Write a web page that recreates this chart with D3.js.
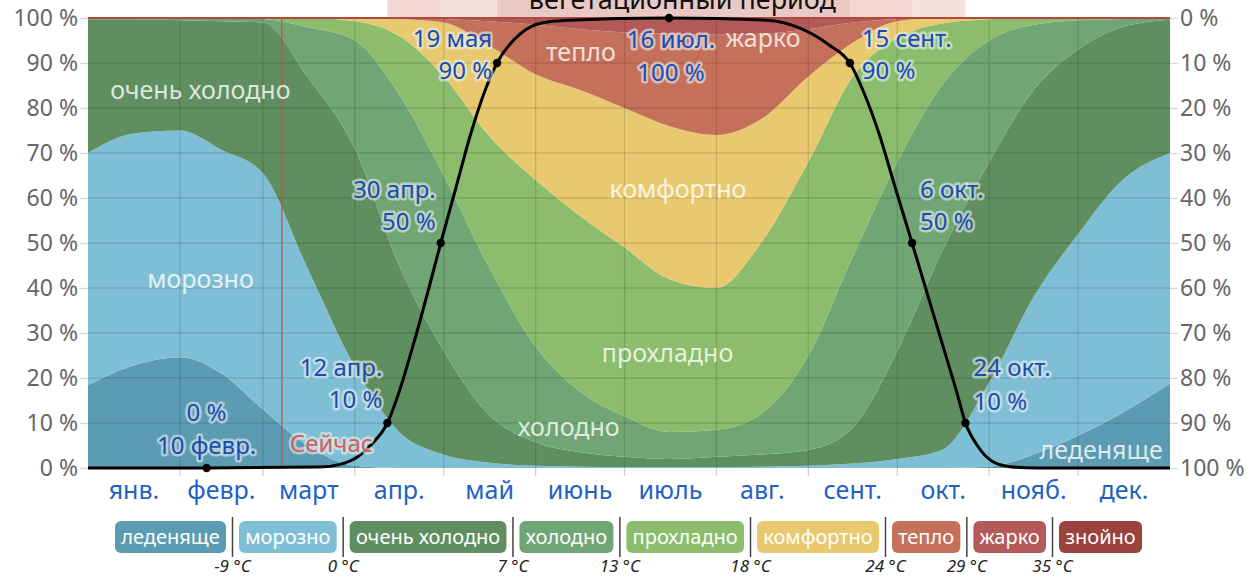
<!DOCTYPE html>
<html><head><meta charset="utf-8">
<script src="https://cdn.jsdelivr.net/npm/d3@7"></script>
<style>
body{margin:0;background:#fff;}
svg{display:block;font-family:"Noto Sans","Open Sans",sans-serif;}
</style>
</head><body>
<svg id="c" width="1255" height="577"></svg>
<script>
// ---------- DATA ----------
const categories = ["леденяще","морозно","очень холодно","холодно","прохладно","комфортно","тепло","жарко","знойно"];
const catColors  = ["#5b9cb2","#7fbfd5","#5f8f61","#6fa673","#8bbd6c","#e8c96f","#c5705a","#b35a59","#9b423c"];
const thresholds = ["-9 °C","0 °C","7 °C","13 °C","18 °C","24 °C","29 °C","35 °C"];
const months = ["янв.","февр.","март","апр.","май","июнь","июль","авг.","сент.","окт.","нояб.","дек."];
const monthStarts = [0,31,59,90,120,151,181,212,243,273,304,334,365];
const pctTicks = [0,10,20,30,40,50,60,70,80,90,100];

// sample days (day of year)
const days = [0,15,31,45,59,74,90,105,120,135,151,166,181,196,212,227,243,258,273,288,304,319,334,349,365];
// share of hours (%) in each band
const ledenyashche = [18.4,22.7,24.6,21,13,5,0.5,0,0,0,0,0,0,0,0,0,0,0,0,0,0.3,3,7.2,12.3,18.8];
const moroszno     = [51.6,51.6,50.4,49.7,52.5,39.5,22,8,3,1.2,0.5,0.3,0.2,0.2,0.2,0.3,0.5,1,2,4,18.7,35,44.8,51.7,51.2];
const ochenHolodno = [29.7,25.4,24.5,28.6,33.5,42.5,48.5,37,23,10.8,5.2,3.2,2.3,1.8,2.3,2.7,3.5,8,24,44,49,46,41,34,29.6];
const holodno      = [0.3,0.3,0.5,0.7,0.8,11,24,38,39,33,21.3,13.5,9,6,6,9,21,38,42,37,27,14.5,6.5,1.8,0.3];
const prohladno    = [0,0,0,0,0.2,2,4.3,13,22,29,37,39,37.5,34,31.5,38,43,40,27.5,13.8,4.7,1.5,0.5,0.2,0.1];
const komfortno    = [0,0,0,0,0,0,0.7,3.8,12,20,23.5,28,31,34,34,27.5,19,7.5,3.8,1.2,0.3,0,0,0,0];
const teplo        = [0,0,0,0,0,0,0,0.2,0.8,5.3,11,13.5,16.8,20.5,22.3,19,10.5,4.5,0.5,0,0,0,0,0,0];
const zharko       = [0,0,0,0,0,0,0,0,0.2,0.65,1.4,2.3,2.9,3.1,3.3,3.2,2.35,0.95,0.2,0,0,0,0,0,0];
const znoyno       = [0,0,0,0,0,0,0,0,0,0.05,0.1,0.2,0.3,0.4,0.4,0.3,0.15,0.05,0,0,0,0,0,0,0];
const bandSeries = [ledenyashche,moroszno,ochenHolodno,holodno,prohladno,komfortno,teplo,zharko,znoyno];

// growing season probability (%)
const growDays = [0,40,78,85,91,96,101,105,110,115,119,124,129,134,138,146,153,162,196,229,240,250,257,262,267,272,278,283,288,293,296,300,305,311,320,365];
const growPct  = [0,0,0.2,0.8,2.5,5.5,10,17,28,40,50,62,74,84,90,96.6,98.9,99.5,100,99.5,97.8,94,90,83,74,63,50,39,28,17,10,5,1.5,0.3,0,0];

// annotated points
const markDays   = [40,101,119,138,196,257,278,296];
const markPct    = [0,10,50,90,100,90,50,10];
const markDates  = ["10 февр.","12 апр.","30 апр.","19 мая","16 июл.","15 сент.","6 окт.","24 окт."];
const markValues = ["0 %","10 %","50 %","90 %","100 %","90 %","50 %","10 %"];

// season bar shading segments (day ranges)
const seasonFrom = [101,119,138,257,278];
const seasonTo   = [119,138,257,278,296];
const seasonShade= ["#f1d6d2","#f5e1de","#eac9c4","#f1d6d2","#f5e1de"];

const nowDay = 65.4;

// ---------- DRAW ----------
const svg = d3.select("#c");
const L=88, R=1170, T=18, B=468;
const x = d3.scaleLinear().domain([0,365]).range([L,R]);
const y = d3.scaleLinear().domain([0,100]).range([B,T]);
const yR = d3.scaleLinear().domain([100,0]).range([B,T]);

// top season bar
svg.append("g").selectAll("rect").data(seasonFrom).join("rect")
  .attr("x",(d,i)=>x(d)).attr("y",0).attr("width",(d,i)=>x(seasonTo[i])-x(d)).attr("height",T-1)
  .attr("fill",(d,i)=>seasonShade[i]);
svg.append("text").attr("x",(x(119)+x(278))/2+6).attr("y",9).attr("text-anchor","middle")
  .attr("font-size",27).attr("fill","#111").text("вегетационный период");

// stacked bands
const rows = days.map((d,i)=>{const r={day:d}; categories.forEach((c,k)=>r[c]=bandSeries[k][i]); return r;});
const stacked = d3.stack().keys(categories)(rows);
const area = d3.area().x(d=>x(d.data.day)).y0(d=>y(d[0])).y1(d=>y(d[1])).curve(d3.curveMonotoneX);
svg.append("g").selectAll("path").data(stacked).join("path")
  .attr("d",area).attr("fill",(d,i)=>catColors[i]);

// grid
const grid = svg.append("g").attr("stroke","rgba(0,0,0,0.13)").attr("stroke-width",1.3);
grid.selectAll(".h").data(pctTicks.slice(1,-1)).join("line")
  .attr("x1",L).attr("x2",R).attr("y1",d=>y(d)).attr("y2",d=>y(d));
grid.selectAll(".v").data(monthStarts.slice(1,-1)).join("line")
  .attr("y1",T).attr("y2",B).attr("x1",d=>x(d)).attr("x2",d=>x(d));
// month ticks below
svg.append("g").attr("stroke","#d0d0d0").attr("stroke-width",1.3)
  .selectAll("line").data(monthStarts.slice(1,-1)).join("line")
  .attr("y1",B).attr("y2",B+8).attr("x1",d=>x(d)).attr("x2",d=>x(d));
// top line
svg.append("line").attr("x1",L).attr("x2",R).attr("y1",T).attr("y2",T).attr("stroke","#b04a3c").attr("stroke-width",2);

// now line
svg.append("line").attr("x1",x(nowDay)).attr("x2",x(nowDay)).attr("y1",T).attr("y2",B)
  .attr("stroke","#c8504a").attr("stroke-width",1.5).attr("opacity",0.85);

// axes
const axL = svg.append("g").attr("transform",`translate(${L},0)`)
  .call(d3.axisLeft(y).tickValues(pctTicks).tickFormat(d=>d+" %").tickSize(8).tickPadding(2));
const axR = svg.append("g").attr("transform",`translate(${R},0)`)
  .call(d3.axisRight(yR).tickValues(pctTicks).tickFormat(d=>d+" %").tickSize(8).tickPadding(2));
[axL,axR].forEach(a=>{
  a.select(".domain").remove();
  a.selectAll("line").attr("stroke","#d8d8d8").attr("stroke-width",1.3);
  a.selectAll("text").attr("font-size",23).attr("fill","#666").attr("font-family","\"Noto Sans\",sans-serif");
});

// month labels
svg.append("g").selectAll("text").data(months).join("text")
  .attr("x",(d,i)=>x((monthStarts[i]+monthStarts[i+1])/2)).attr("y",B+22).attr("dy","0.35em")
  .attr("text-anchor","middle").attr("font-size",25).attr("fill","#1f62c4").text(d=>d);

// band labels
const bandLabels = [
  {t:"очень холодно", d:7.5, p:84, a:"start"},
  {t:"морозно", d:20, p:42, a:"start"},
  {t:"холодно", d:145, p:9, a:"start"},
  {t:"прохладно", d:195.5, p:25.5, a:"middle"},
  {t:"комфортно", d:199, p:62, a:"middle"},
  {t:"тепло", d:154.5, p:92.5, a:"start"},
  {t:"жарко", d:215, p:95.5, a:"start"},
  {t:"леденяще", d:321, p:4, a:"start"}
];
svg.append("g").selectAll("text").data(bandLabels).join("text")
  .attr("x",d=>x(d.d)).attr("y",d=>y(d.p)).attr("dy","0.35em").attr("text-anchor",d=>d.a)
  .attr("font-size",25).attr("fill","rgba(255,255,255,0.8)").text(d=>d.t);

// growing line
const line = d3.line().x((d,i)=>x(growDays[i])).y(d=>y(d)).curve(d3.curveMonotoneX);
svg.append("path").datum(growPct).attr("d",line).attr("fill","none").attr("stroke","#000").attr("stroke-width",3);
svg.append("g").selectAll("circle").data(markDays).join("circle")
  .attr("cx",d=>x(d)).attr("cy",(d,i)=>y(markPct[i])).attr("r",4.2).attr("fill","#000");

// annotations
const annoPos = [
  {a:"middle",dx:0, y1:-55,y2:-22, order:"vd"},
  {a:"end",dx:-5, y1:-55,y2:-23},
  {a:"end",dx:-5, y1:-53,y2:-21},
  {a:"end",dx:-5, y1:-24,y2:8},
  {a:"middle",dx:2, y1:22,y2:55},
  {a:"start",dx:12, y1:-24,y2:8},
  {a:"start",dx:8, y1:-53,y2:-21},
  {a:"start",dx:8, y1:-55,y2:-21}
];
const ag = svg.append("g").attr("font-size",24).attr("fill","#1a4cb0")
  .attr("stroke","rgba(235,240,240,0.6)").attr("stroke-width",5).attr("stroke-linejoin","round").attr("paint-order","stroke");
markDays.forEach((d,i)=>{
  const p = annoPos[i];
  const px = x(d)+p.dx, py = y(markPct[i]);
  const first = p.order==="vd" ? markValues[i] : markDates[i];
  const second = p.order==="vd" ? markDates[i] : markValues[i];
  ag.append("text").attr("x",px).attr("y",py+p.y1).attr("dy","0.35em").attr("text-anchor",p.a).text(first);
  ag.append("text").attr("x",px).attr("y",py+p.y2).attr("dy","0.35em").attr("text-anchor",p.a).text(second);
});
// now label
svg.append("text").attr("x",x(nowDay)+8).attr("y",444).attr("dy","0.35em").attr("font-size",24)
  .attr("fill","#d0605c").attr("stroke","rgba(235,240,240,0.6)").attr("stroke-width",5)
  .attr("stroke-linejoin","round").attr("paint-order","stroke").text("Сейчас");

// legend
const lg = svg.append("g");
const pad = 5, gap = 6.5, lx0 = 115, lx1 = 1142, ly = 521, lh = 32;
const tmp = lg.selectAll("text.m").data(categories).join("text").attr("font-size",20).text(d=>d);
const widths = []; tmp.each(function(){widths.push(this.getComputedTextLength());}); tmp.remove();
const natural = d3.sum(widths) + categories.length*2*pad + (categories.length-1)*2*gap;
const extra = ((lx1-lx0) - natural)/(categories.length*2);
let cx = lx0; const seps=[];
categories.forEach((c,i)=>{
  const w = widths[i]+2*(pad+extra);
  lg.append("rect").attr("x",cx).attr("y",ly).attr("width",w).attr("height",lh).attr("rx",6).attr("fill",catColors[i]);
  lg.append("text").attr("x",cx+w/2).attr("y",ly+lh/2).attr("dy","0.35em").attr("text-anchor","middle")
    .attr("font-size",20).attr("fill","#fff").text(c);
  cx += w;
  if(i<categories.length-1){ seps.push(cx+gap); cx += 2*gap; }
});
lg.selectAll("line").data(seps).join("line").attr("x1",d=>d).attr("x2",d=>d).attr("y1",ly-4).attr("y2",ly+lh+4)
  .attr("stroke","#444").attr("stroke-width",1.5);
lg.selectAll("text.th").data(thresholds).join("text").attr("class","th")
  .attr("x",(d,i)=>seps[i]).attr("y",572).attr("text-anchor","middle").attr("font-size",17)
  .attr("font-style","italic").attr("fill","#222").text(d=>d);
</script>
</body></html>
